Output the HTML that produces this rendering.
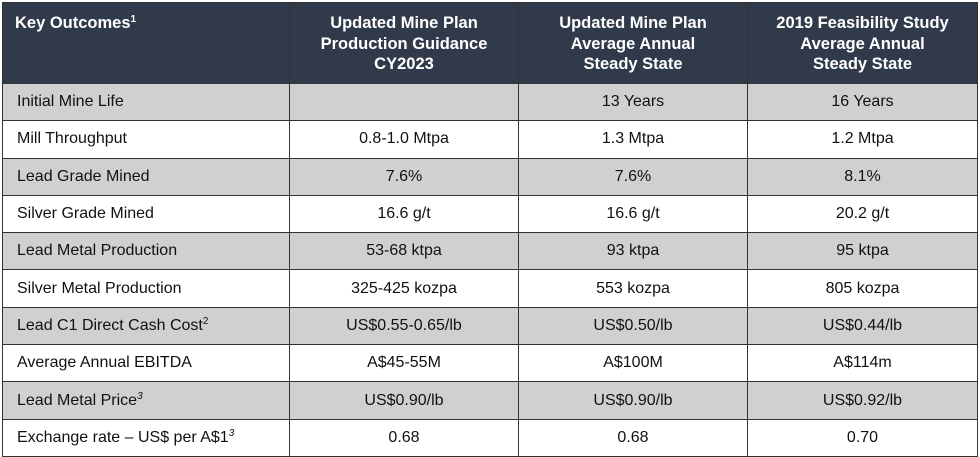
<!DOCTYPE html>
<html><head><style>
body{margin:0;width:980px;height:457px;background:#fff;font-family:"Liberation Sans",Arial,sans-serif;}
table{position:absolute;left:2px;top:2px;width:975px;border-collapse:collapse;table-layout:fixed;}
td,th{border:1px solid #333;font-size:16px;color:#111;padding:0;height:36.3px;text-align:center;}
th{background:#313a4b;color:#fff;font-weight:bold;height:70px;line-height:20.5px;vertical-align:top;padding-top:10px;font-size:16.5px;}
th:first-child{text-align:left;padding-left:12px;}
td:first-child{text-align:left;padding-left:14px;}
tr.g td{background:#d1d0d0;}
sup{font-size:10px;vertical-align:6px;line-height:0}
</style></head><body>
<table>
<colgroup><col style="width:287px"><col style="width:229px"><col style="width:229px"><col style="width:230px"></colgroup>
<tr><th>Key Outcomes<sup>1</sup></th><th>Updated Mine Plan<br>Production Guidance<br>CY2023</th><th>Updated Mine Plan<br>Average Annual<br>Steady State</th><th>2019 Feasibility Study<br>Average Annual<br>Steady State</th></tr>
<tr class="g"><td>Initial Mine Life</td><td></td><td>13 Years</td><td>16 Years</td></tr>
<tr><td>Mill Throughput</td><td>0.8-1.0 Mtpa</td><td>1.3 Mtpa</td><td>1.2 Mtpa</td></tr>
<tr class="g"><td>Lead Grade Mined</td><td>7.6%</td><td>7.6%</td><td>8.1%</td></tr>
<tr><td>Silver Grade Mined</td><td>16.6 g/t</td><td>16.6 g/t</td><td>20.2 g/t</td></tr>
<tr class="g"><td>Lead Metal Production</td><td>53-68 ktpa</td><td>93 ktpa</td><td>95 ktpa</td></tr>
<tr><td>Silver Metal Production</td><td>325-425 kozpa</td><td>553 kozpa</td><td>805 kozpa</td></tr>
<tr class="g"><td>Lead C1 Direct Cash Cost<sup>2</sup></td><td>US$0.55-0.65/lb</td><td>US$0.50/lb</td><td>US$0.44/lb</td></tr>
<tr><td>Average Annual EBITDA</td><td>A$45-55M</td><td>A$100M</td><td>A$114m</td></tr>
<tr class="g"><td>Lead Metal Price<sup><i>3</i></sup></td><td>US$0.90/lb</td><td>US$0.90/lb</td><td>US$0.92/lb</td></tr>
<tr><td>Exchange rate – US$ per A$1<sup><i>3</i></sup></td><td>0.68</td><td>0.68</td><td>0.70</td></tr>
</table>
</body></html>
